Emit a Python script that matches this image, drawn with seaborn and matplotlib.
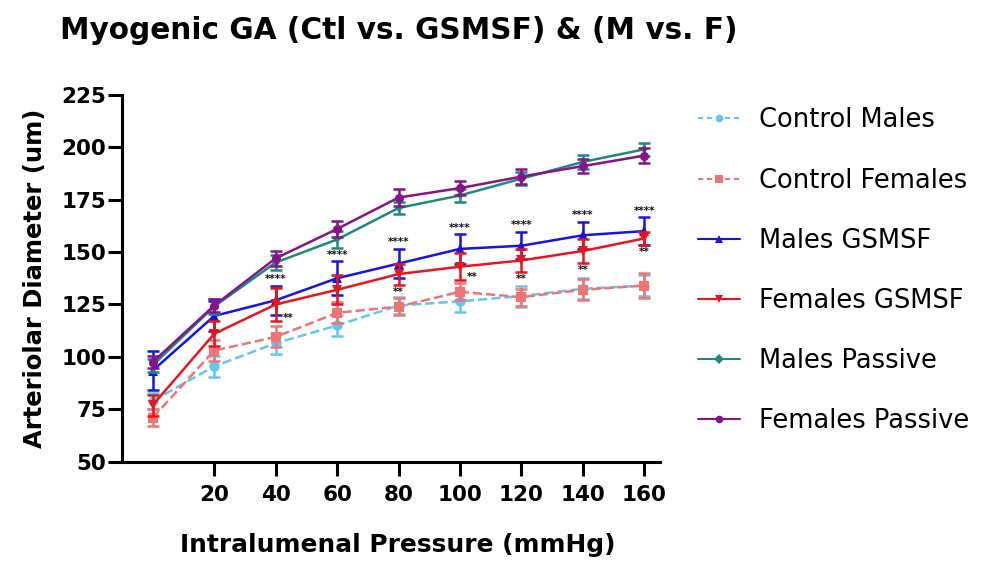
import matplotlib
matplotlib.use("Agg")
import matplotlib.pyplot as plt
from matplotlib.lines import Line2D
import seaborn as sns
import pandas as pd

# Intraluminal pressure steps (mmHg)
pressure = [0, 20, 40, 60, 80, 100, 120, 140, 160]

# Mean arteriolar diameter (um) per group
ctl_males = [79, 95.5, 106.5, 115, 124.5, 126.5, 129, 132.5, 134]
ctl_females = [71, 103, 109.5, 121, 124, 131, 128.5, 132, 134]
males_gsmsf = [93.5, 119.5, 127, 137.5, 144.5, 151.5, 153, 158, 160]
females_gsmsf = [77, 111, 125, 132, 139.5, 143, 146, 150.5, 156.5]
males_passive = [96, 124, 145, 156, 171, 177, 185, 193, 199]
females_passive = [97.5, 124.5, 147, 161, 176, 180.5, 186, 191, 196]

# SEM per group
ctl_males_err = [4, 5, 5, 5, 4, 5, 5, 5, 5]
ctl_females_err = [4, 5, 5, 5, 4, 4, 4, 5, 6]
males_gsmsf_err = [9.5, 7, 7, 8, 7, 7, 6.5, 6.5, 6.5]
females_gsmsf_err = [5, 6, 8, 7, 5, 6.5, 5.5, 5.5, 3]
males_passive_err = [3, 3.5, 3.5, 4, 3, 3, 3, 3.5, 3]
females_passive_err = [3, 3, 3.5, 4, 4, 3.5, 3.5, 3.5, 3.5]

# Significance labels (Males vs Females GSMSF: "****" above, "**" below)
star_hi = ["", "", "****", "****", "****", "****", "****", "****", "****"]
star_lo = ["", "", "**", "", "**", "**", "**", "**", "**"]
star_lo_side = ["", "", "right", "", "below", "right", "below", "below", "below"]

labels = ["Control Males", "Control Females", "Males GSMSF",
          "Females GSMSF", "Males Passive", "Females Passive"]

sns.set_theme(style="ticks")
plt.rcParams["font.family"] = ["DejaVu Sans"]
plt.rcParams.update({"text.color": "black", "axes.labelcolor": "black",
                     "xtick.color": "black", "ytick.color": "black"})

groups = [
    dict(label=labels[0], y=ctl_males, e=ctl_males_err, color="#62c6f2",
         marker="o", ls="--", ms=7.5),
    dict(label=labels[1], y=ctl_females, e=ctl_females_err, color="#f07474",
         marker="s", ls="--", ms=7),
    dict(label=labels[2], y=males_gsmsf, e=males_gsmsf_err, color="#1414e6",
         marker="^", ls="-", ms=6.5),
    dict(label=labels[3], y=females_gsmsf, e=females_gsmsf_err, color="#e8161c",
         marker="v", ls="-", ms=6.5),
    dict(label=labels[4], y=males_passive, e=males_passive_err, color="#1c8a82",
         marker="D", ls="-", ms=4.5),
    dict(label=labels[5], y=females_passive, e=females_passive_err, color="#86138a",
         marker="o", ls="-", ms=6.5),
]

fig = plt.figure(figsize=(9.92, 5.61), dpi=100)
ax = fig.add_axes([0.123, 0.177, 0.542, 0.654])

for g in groups:
    df = pd.DataFrame({"pressure": pressure, "diameter": g["y"]})
    sns.lineplot(data=df, x="pressure", y="diameter", ax=ax, color=g["color"],
                 marker=g["marker"], markersize=g["ms"], markeredgewidth=0,
                 linestyle=g["ls"], linewidth=1.8, legend=False,
                 dashes=(4, 2.5) if g["ls"] == "--" else None)
    ax.errorbar(pressure, g["y"], yerr=g["e"], fmt="none", ecolor=g["color"],
                elinewidth=1.8, capsize=4.5, capthick=1.8)

# significance marks
for i, p in enumerate(pressure):
    if star_hi[i]:
        ax.text(p, males_gsmsf[i] + males_gsmsf_err[i] + 0.8, star_hi[i],
                ha="center", va="bottom", fontsize=7.5, fontweight="bold",
                color="#111111")
    if star_lo[i]:
        if star_lo_side[i] == "right":
            ax.text(p + 2.2, females_gsmsf[i] - females_gsmsf_err[i] + 1.5,
                    star_lo[i], ha="left", va="center", fontsize=7.5,
                    fontweight="bold", color="#111111")
        else:
            ax.text(p, females_gsmsf[i] - females_gsmsf_err[i] - 1.2,
                    star_lo[i], ha="center", va="top", fontsize=7.5,
                    fontweight="bold", color="#111111")

ax.set_xlim(-10, 165)
ax.set_ylim(50, 225)
ax.set_xticks([20, 40, 60, 80, 100, 120, 140, 160])
ax.set_yticks([50, 75, 100, 125, 150, 175, 200, 225])
for s in ["top", "right"]:
    ax.spines[s].set_visible(False)
for s in ["left", "bottom"]:
    ax.spines[s].set_linewidth(2.2)
    ax.spines[s].set_color("black")
ax.tick_params(axis="both", length=10, width=2.2, color="black",
               labelsize=15.5, labelcolor="black")
ax.tick_params(axis="x", pad=7)
ax.tick_params(axis="y", pad=1.5)
for t in ax.get_xticklabels() + ax.get_yticklabels():
    t.set_fontweight("bold")
ax.set_xlabel("Intralumenal Pressure (mmHg)", fontsize=17.9,
              fontweight="bold")
ax.xaxis.set_label_coords(0.513, -0.193)
ax.set_ylabel("Arteriolar Diameter (um)", fontsize=17.5,
              fontweight="bold", labelpad=10)

fig.text(0.06, 0.945, "Myogenic GA (Ctl vs. GSMSF) & (M vs. F)",
         fontsize=21.3, fontweight="bold", ha="left", va="center")

handles = [Line2D([0], [0], color=g["color"], linestyle=g["ls"],
                  linewidth=1.5, marker=g["marker"], markersize=5.5,
                  markeredgewidth=0,
                  dashes=(2.5, 1.8) if g["ls"] == "--" else (None, None))
           for g in groups]
leg = fig.legend(handles, labels, loc="upper left",
                 bbox_to_anchor=(0.693, 0.827), frameon=False, fontsize=18.5,
                 handlelength=1.65, handletextpad=0.75, labelspacing=1.33,
                 borderaxespad=0)

fig.savefig("out.png", dpi=100)
